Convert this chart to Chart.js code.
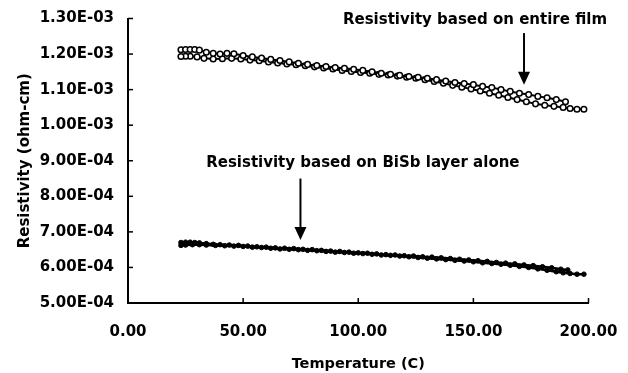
<!DOCTYPE html>
<html>
<head>
<meta charset="utf-8">
<script src="https://cdn.jsdelivr.net/npm/chart.js@4"></script>
<style>
  body { margin: 0; background: #fff; }
  #wrap { width: 628px; height: 373px; }
</style>
</head>
<body>
<div id="wrap"><canvas id="myChart"></canvas></div>
<script>
// temperature (C) and resistivity (1e-3 ohm-cm), entire film, heating then cooling
const filmHeatT = [23,25,27,29,31,34,37,40,43,46,50,54,58,62,66,70,74,78,82,86,90,94,98,102,106,110,114,118,122,126,130,134,138,142,146,150,154,158,162,166,170,174,178,182,186,190];
const filmHeatR = [1.212,1.213,1.213,1.213,1.211,1.205,1.202,1.200,1.202,1.201,1.196,1.192,1.189,1.185,1.182,1.178,1.174,1.171,1.168,1.165,1.162,1.160,1.157,1.154,1.150,1.146,1.143,1.140,1.137,1.135,1.132,1.128,1.124,1.120,1.117,1.114,1.109,1.106,1.100,1.095,1.090,1.086,1.081,1.077,1.072,1.066];
const filmCoolT = [198,195,192,189,185,181,177,173,169,165,161,157,153,149,145,141,137,133,129,125,121,117,113,109,105,101,97,93,89,85,81,77,73,69,65,61,57,53,49,45,41,37,33,30,27,25,23];
const filmCoolR = [1.045,1.045,1.047,1.050,1.053,1.056,1.060,1.066,1.072,1.078,1.084,1.090,1.096,1.102,1.107,1.112,1.118,1.123,1.128,1.132,1.135,1.138,1.141,1.143,1.146,1.148,1.151,1.154,1.158,1.161,1.164,1.167,1.170,1.172,1.175,1.178,1.181,1.183,1.186,1.188,1.187,1.186,1.188,1.192,1.194,1.194,1.193];

// BiSb layer alone (1e-4 ohm-cm)
const bisbHeatT = [23,25,27,29,31,34,37,40,44,48,52,56,60,64,68,72,76,80,84,88,92,96,100,104,108,112,116,120,124,128,132,136,140,144,148,152,156,160,164,168,172,176,180,184,188,191];
const bisbHeatR = [6.70,6.71,6.71,6.70,6.69,6.67,6.65,6.64,6.63,6.62,6.60,6.58,6.57,6.55,6.54,6.53,6.51,6.50,6.48,6.46,6.45,6.43,6.41,6.40,6.38,6.36,6.35,6.33,6.32,6.30,6.29,6.27,6.25,6.23,6.21,6.19,6.17,6.14,6.12,6.10,6.07,6.05,6.02,5.99,5.95,5.93];
const bisbCoolT = [198,195,192,189,186,182,178,174,170,166,162,158,154,150,146,142,138,134,130,126,122,118,114,110,106,102,98,94,90,86,82,78,74,70,66,62,58,54,50,46,42,38,34,31,28,25,23];
const bisbCoolR = [5.81,5.81,5.83,5.85,5.88,5.92,5.96,6.00,6.03,6.06,6.09,6.11,6.13,6.16,6.18,6.20,6.22,6.24,6.26,6.28,6.30,6.32,6.34,6.35,6.37,6.39,6.40,6.42,6.43,6.45,6.47,6.48,6.50,6.51,6.52,6.54,6.56,6.57,6.59,6.60,6.61,6.62,6.63,6.64,6.64,6.63,6.62];

const xTicks = [0, 50, 100, 150, 200];
const yMin = 5e-4, yMax = 1.3e-3, yStep = 1e-4;

// annotation texts, anchored in data units
const notes = [
  { text: 'Resistivity based on entire film', x: 150.7, y: 1.296e-3, arrowX: 172, from: 1.259e-3, to: 1.114e-3 },
  { text: 'Resistivity based on BiSb layer alone', x: 102, y: 8.94e-4, arrowX: 74.9, from: 8.50e-4, to: 6.77e-4 }
];

const pts = (t, r, k) => t.map((v, i) => ({ x: v, y: r[i] * k }));

function sci(v) {
  let [m, e] = v.toExponential(2).split('e');
  e = parseInt(e);
  return m + 'E' + (e < 0 ? '-' : '+') + String(Math.abs(e)).padStart(2, '0');
}

const FONT = 'DejaVu Sans';
Chart.defaults.font.family = FONT;
Chart.defaults.font.weight = 'bold';
Chart.defaults.font.size = 15;
Chart.defaults.color = '#000';

const openDot = { borderColor: '#000', backgroundColor: '#fff', pointBackgroundColor: '#fff', pointBorderColor: '#000',
  pointRadius: 2.8, pointBorderWidth: 1.5, borderWidth: 2, showLine: true };
const fullDot = { borderColor: '#000', backgroundColor: '#000', pointBackgroundColor: '#000', pointBorderColor: '#000',
  pointRadius: 2.3, pointBorderWidth: 1, borderWidth: 2.5, showLine: true };

const extras = {
  id: 'extras',
  afterDraw(chart) {
    const { ctx, scales: { x, y } } = chart;
    ctx.save();
    ctx.strokeStyle = '#000';
    ctx.fillStyle = '#000';
    ctx.lineWidth = 1.5;
    // small inward tick marks
    y.ticks.forEach(t => {
      const py = y.getPixelForValue(t.value);
      ctx.beginPath(); ctx.moveTo(x.left, py); ctx.lineTo(x.left + 5, py); ctx.stroke();
    });
    xTicks.forEach(v => {
      const px = x.getPixelForValue(v);
      ctx.beginPath(); ctx.moveTo(px, y.bottom); ctx.lineTo(px, y.bottom - 5); ctx.stroke();
    });
    // notes with arrows
    ctx.font = 'bold 15px "' + FONT + '"';
    ctx.textAlign = 'center';
    ctx.textBaseline = 'middle';
    notes.forEach(n => {
      ctx.fillText(n.text, x.getPixelForValue(n.x), y.getPixelForValue(n.y));
      const ax = x.getPixelForValue(n.arrowX);
      const y0 = y.getPixelForValue(n.from), y1 = y.getPixelForValue(n.to);
      ctx.lineWidth = 2;
      ctx.beginPath(); ctx.moveTo(ax, y0); ctx.lineTo(ax, y1 - 10); ctx.stroke();
      ctx.beginPath(); ctx.moveTo(ax - 6, y1 - 13); ctx.lineTo(ax + 6, y1 - 13); ctx.lineTo(ax, y1); ctx.closePath(); ctx.fill();
    });
    ctx.restore();
  }
};

new Chart(document.getElementById('myChart'), {
  type: 'scatter',
  data: {
    datasets: [
      { label: 'film heating', data: pts(filmHeatT, filmHeatR, 1e-3), ...openDot },
      { label: 'film cooling', data: pts(filmCoolT, filmCoolR, 1e-3), ...openDot },
      { label: 'BiSb heating', data: pts(bisbHeatT, bisbHeatR, 1e-4), ...fullDot },
      { label: 'BiSb cooling', data: pts(bisbCoolT, bisbCoolR, 1e-4), ...fullDot }
    ]
  },
  options: {
    responsive: true,
    maintainAspectRatio: false,
    animation: false,
    layout: { autoPadding: false, padding: { left: 0, top: 18.5, right: 39.5, bottom: 0 } },
    plugins: { legend: { display: false }, tooltip: { enabled: false } },
    scales: {
      x: {
        type: 'linear', min: 0, max: 200,
        afterBuildTicks: s => { s.ticks = xTicks.map(v => ({ value: v })); },
        afterFit: s => { s.height = 70; s.paddingLeft = 0; s.paddingRight = 0; },
        grid: { display: false, drawTicks: false },
        border: { display: true, color: '#000', width: 2 },
        ticks: { padding: 20, callback: v => Number(v).toFixed(2) },
        title: { display: true, text: 'Temperature (C)', font: { size: 14.5, weight: 'bold' }, padding: { top: 2, bottom: 0 } }
      },
      y: {
        min: yMin, max: yMax,
        afterFit: s => { s.width = 128; s.paddingTop = 0; s.paddingBottom = 0; },
        grid: { display: false, drawTicks: false },
        border: { display: true, color: '#000', width: 2 },
        ticks: { stepSize: yStep, padding: 14, callback: v => sci(v) },
        title: { display: true, text: 'Resistivity (ohm-cm)', font: { size: 15, weight: 'bold' }, padding: { top: 16, bottom: 0 } }
      }
    }
  },
  plugins: [extras]
});
</script>
</body>
</html>
